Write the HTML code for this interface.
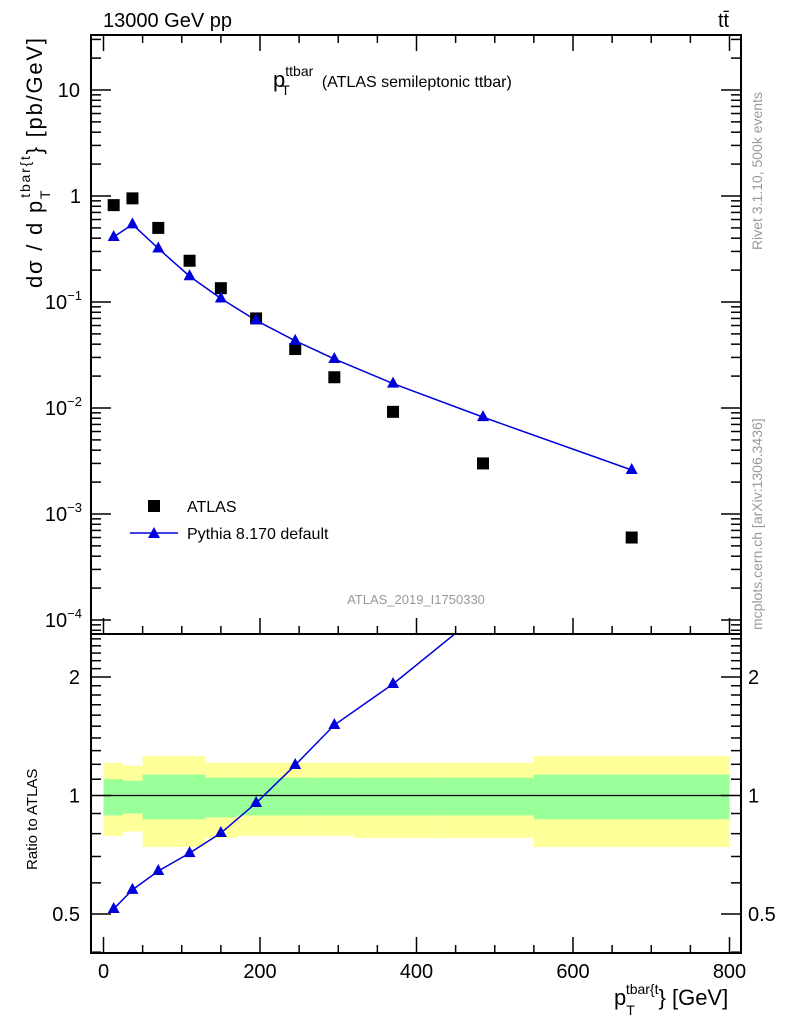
<!DOCTYPE html>
<html><head><meta charset="utf-8"><style>
body{margin:0;background:#fff;}
svg{display:block;font-family:"Liberation Sans",sans-serif;}
</style></head><body>
<svg id="chart" width="786" height="1024">
<g id="bands"></g>
<g id="marks"></g>
<g id="axes"></g>
<rect x="91" y="35" width="650" height="599" fill="none" stroke="#000" stroke-width="2"/>
<rect x="91" y="634" width="650" height="319" fill="none" stroke="#000" stroke-width="2"/>
<text x="103" y="27" font-size="20">13000 GeV pp</text>
<text x="718" y="27" font-size="20">tt̄</text>
<text x="273" y="87" font-size="22">p<tspan font-size="14" dy="-11">ttbar</tspan><tspan font-size="14" dx="-32" dy="19">T</tspan><tspan font-size="16" dx="32" dy="-8">(ATLAS semileptonic ttbar)</tspan></text>
<text transform="translate(42,288) rotate(-90)" font-size="22" textLength="250">dσ / d p<tspan font-size="14" dy="8">T</tspan><tspan font-size="14" dx="-9" dy="-20">tbar{t</tspan><tspan dy="12">} [pb/GeV]</tspan></text>
<text transform="translate(37,870) rotate(-90)" font-size="15">Ratio to ATLAS</text>
<text x="614" y="1005" font-size="22">p<tspan font-size="14" dy="10">T</tspan><tspan font-size="14" dx="-9" dy="-21">tbar{t</tspan><tspan dy="11">} [GeV]</tspan></text>
<text transform="translate(762,250) rotate(-90)" font-size="14" fill="#999">Rivet 3.1.10,  500k events</text>
<text transform="translate(762,630) rotate(-90)" font-size="14" fill="#999">mcplots.cern.ch [arXiv:1306.3436]</text>
<text x="416" y="604" font-size="13" fill="#999" text-anchor="middle">ATLAS_2019_I1750330</text>
<rect x="148" y="500" width="12" height="12" fill="#000"/>
<text x="187" y="512" font-size="16">ATLAS</text>
<line x1="130" y1="533" x2="178" y2="533" stroke="#0000dd" stroke-width="1.5"/>
<polygon points="154,527 148,538 160,538" fill="#0000dd"/>
<text x="187" y="539" font-size="16">Pythia 8.170 default</text>
</svg>
<script>
const xCenters=[13,37,70,110,150,195,245,295,370,485,675];
const atlasVals=[0.82,0.95,0.5,0.245,0.135,0.07,0.036,0.0195,0.0092,0.003,0.0006];
const pythiaVals=[0.41,0.54,0.32,0.175,0.108,0.067,0.043,0.029,0.017,0.0082,0.0026];
const ratioVals=[0.515,0.576,0.643,0.714,0.803,0.957,1.195,1.51,1.92,2.94,4.3];
const binEdges=[0,25,50,90,130,170,220,270,320,420,550,800];
const yellowHi=[1.21,1.19,1.26,1.26,1.21,1.21,1.21,1.21,1.21,1.21,1.26];
const yellowLo=[0.79,0.81,0.74,0.74,0.78,0.79,0.79,0.79,0.78,0.78,0.74];
const greenHi=[1.10,1.09,1.13,1.13,1.11,1.11,1.11,1.11,1.11,1.11,1.13];
const greenLo=[0.89,0.90,0.87,0.87,0.88,0.89,0.89,0.89,0.89,0.89,0.87];
const xTicks=[0,200,400,600,800];
const mainTicks=[1,0,-1,-2,-3,-4];
const mainTickLabels=["10","1","10⁻¹","10⁻²","10⁻³","10⁻⁴"];
const ratioTicks=[0.5,1,2];
const ratioTickLabels=["0.5","1","2"];
const NS="http://www.w3.org/2000/svg";
const X=v=>103.5+v*(729.5-103.5)/800;
const Y=v=>90-(Math.log10(v)-1)*106;
const R=v=>795.5-Math.log10(v)*393.7;
function mk(tag,attrs,parent){const e=document.createElementNS(NS,tag);for(const k in attrs)e.setAttribute(k,attrs[k]);document.getElementById(parent).appendChild(e);return e;}
for(let i=0;i<binEdges.length-1;i++){
 const x0=X(binEdges[i]),x1=X(binEdges[i+1]);
 let e=mk('rect',{x:x0,y:R(yellowHi[i]),width:x1-x0,height:R(yellowLo[i])-R(yellowHi[i]),fill:'#ffff99'},'bands');
 
 
 e=mk('rect',{x:x0,y:R(greenHi[i]),width:x1-x0,height:R(greenLo[i])-R(greenHi[i]),fill:'#99ff99'},'bands');
 
 
}
let ln=mk('line',{x1:X(0),x2:X(800),y1:R(1),y2:R(1),stroke:'#000','stroke-width':1.2},'bands');


let p=mk('polyline',{points:xCenters.map((x,i)=>X(x)+','+Y(pythiaVals[i])).join(' '),fill:'none',stroke:'#0000dd','stroke-width':1.5},'marks');


const cp=mk('clipPath',{id:'rc'},'marks');
const cr=document.createElementNS(NS,'rect');cr.setAttribute('x',91);cr.setAttribute('y',634);cr.setAttribute('width',650);cr.setAttribute('height',319);cp.appendChild(cr);
p=mk('polyline',{points:xCenters.map((x,i)=>X(x)+','+R(ratioVals[i])).join(' '),fill:'none',stroke:'#0000dd','stroke-width':1.5,'clip-path':'url(#rc)'},'marks');


xCenters.forEach((x,i)=>{
 const cx=X(x);
 let e=mk('rect',{x:cx-6,y:Y(atlasVals[i])-6,width:12,height:12,fill:'#000'},'marks');
 
 
 let y=Y(pythiaVals[i]);
 e=mk('polygon',{points:`${cx},${y-7} ${cx-6},${y+4} ${cx+6},${y+4}`,fill:'#0000dd'},'marks');
 
 
 if(ratioVals[i]<2.5){y=R(ratioVals[i]);
 e=mk('polygon',{points:`${cx},${y-7} ${cx-6},${y+4} ${cx+6},${y+4}`,fill:'#0000dd'},'marks');
 
 }
});
for(let v=0;v<=800;v+=50){const x=X(v),L=v%200==0?16:8;
 for(const yb of [634,953]){mk('line',{x1:x,x2:x,y1:yb,y2:yb-L,stroke:'#000','stroke-width':1.5},'axes');}
 mk('line',{x1:x,x2:x,y1:35,y2:35+L,stroke:'#000','stroke-width':1.5},'axes');}
xTicks.forEach(v=>{const t=mk('text',{x:X(v),y:978,'font-size':20,'text-anchor':'middle'},'axes');t.textContent=v;
 
 });
for(let d=-5;d<=1;d++)for(let m=1;m<10;m++){const y=Y(m*Math.pow(10,d));if(y<35||y>634)continue;const L=m==1?20:10;
 mk('line',{x1:91,x2:91+L,y1:y,y2:y,stroke:'#000','stroke-width':1.5},'axes');
 mk('line',{x1:741,x2:741-L,y1:y,y2:y,stroke:'#000','stroke-width':1.5},'axes');}
mainTicks.forEach((d,i)=>{const t=mk('text',{x:d==0?81:(d==1?80:82),y:Y(Math.pow(10,d))+7,'font-size':20,'text-anchor':'end'},'axes');
 if(d<0){t.innerHTML='10<tspan font-size="13" dy="-9">−'+(-d)+'</tspan>';}else t.textContent=mainTickLabels[i];
 
 });
for(let v=0.4;v<=2.55;v+=0.1){const y=R(v);const maj=Math.abs(v-0.5)<1e-6||Math.abs(v-1)<1e-6||Math.abs(v-2)<1e-6;const L=maj?20:10;
 mk('line',{x1:91,x2:91+L,y1:y,y2:y,stroke:'#000','stroke-width':1.5},'axes');
 mk('line',{x1:741,x2:741-L,y1:y,y2:y,stroke:'#000','stroke-width':1.5},'axes');}
ratioTicks.forEach((v,i)=>{let t=mk('text',{x:80,y:R(v)+7,'font-size':20,'text-anchor':'end'},'axes');t.textContent=ratioTickLabels[i];
 
 
 t=mk('text',{x:748,y:R(v)+7,'font-size':20},'axes');t.textContent=ratioTickLabels[i];
 
 });
</script>
</body></html>
